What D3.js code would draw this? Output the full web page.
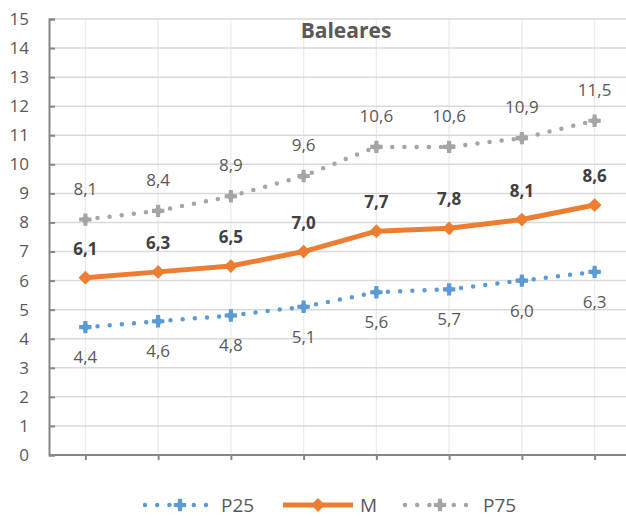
<!DOCTYPE html>
<html><head><meta charset="utf-8">
<script src="https://cdn.jsdelivr.net/npm/d3@7"></script>
<style>
html,body{margin:0;padding:0;background:#fff;}
svg text{font-family:"Open Sans",sans-serif;}
</style></head>
<body>
<svg id="c" width="626" height="517"></svg>
<script>
const categories = [1,2,3,4,5,6,7,8];
const p25 = [4.4,4.6,4.8,5.1,5.6,5.7,6.0,6.3];
const mVals = [6.1,6.3,6.5,7.0,7.7,7.8,8.1,8.6];
const p75 = [8.1,8.4,8.9,9.6,10.6,10.6,10.9,11.5];
const yTicks = d3.range(0,16);
const title = "Baleares";
const seriesNames = ["P25","M","P75"];

(function(){
const svg = d3.select("#c");
const left = 49, topY = 19, bottom = 455, right = 631;
const x = d3.scalePoint().domain(categories).range([left, right]).padding(0.5);
const y = d3.scaleLinear().domain([0,15]).range([bottom, topY]);
const fmt = v => d3.format(".1f")(v).replace(".", ",");

svg.append("g").selectAll("line").data(categories).join("line")
  .attr("x1", d=>x(d)).attr("x2", d=>x(d)).attr("y1", topY).attr("y2", bottom)
  .attr("stroke","#ebebeb").attr("stroke-width",1.3);
svg.append("g").selectAll("line").data(yTicks.filter(d=>d>0)).join("line")
  .attr("x1", left).attr("x2", 626).attr("y1", d=>y(d)).attr("y2", d=>y(d))
  .attr("stroke","#d9d9d9").attr("stroke-width",1.5);

const ya = svg.append("g").attr("transform",`translate(${left},0)`)
  .call(d3.axisRight(y).tickValues(yTicks).tickSize(6).tickFormat(d3.format("d")));
ya.select(".domain").attr("stroke","#868686").attr("stroke-width",2);
ya.selectAll(".tick line").attr("stroke","#868686").attr("stroke-width",2);
ya.selectAll(".tick text").attr("x",-20).attr("text-anchor","end")
  .attr("font-size",17).attr("fill","#595959").attr("font-family","Open Sans");

const xa = svg.append("g").attr("transform",`translate(0,${bottom})`)
  .call(d3.axisBottom(x).tickSize(5).tickFormat(""));
xa.select(".domain").remove();
xa.append("line").attr("x1",left).attr("x2",626).attr("stroke","#868686").attr("stroke-width",2);
xa.selectAll(".tick line").attr("stroke","#868686").attr("stroke-width",2);

svg.append("text").attr("x",346).attr("y",38).attr("text-anchor","middle")
  .attr("font-size",21).attr("font-weight","bold").attr("fill","#595959").text(title);

const line = d3.line().x((d,i)=>x(categories[i])).y(d=>y(d));
const crossMarker = (g, color) => {
  g.append("path").attr("d", d3.symbol(d3.symbolCross, 85)()).attr("fill", color);
  g.append("path").attr("d", d3.symbol(d3.symbolSquare, 50)()).attr("transform","rotate(45)").attr("fill", color);
};
const diamondMarker = (g, color) => {
  g.append("path").attr("d", d3.symbol(d3.symbolSquare, 95)()).attr("transform","rotate(45)").attr("fill", color);
};

function dotted(data, color){
  svg.append("path").datum(data).attr("d", line).attr("fill","none")
    .attr("stroke",color).attr("stroke-width",4.5).attr("stroke-linecap","round")
    .attr("stroke-dasharray","0 12.2");
  svg.append("g").selectAll("g").data(data).join("g")
    .attr("transform",(d,i)=>`translate(${x(categories[i])},${y(d)})`)
    .each(function(){ crossMarker(d3.select(this), color); });
}
dotted(p25, "#5b9bd5");
dotted(p75, "#a5a5a5");
svg.append("path").datum(mVals).attr("d", line).attr("fill","none")
  .attr("stroke","#ed7d31").attr("stroke-width",5).attr("stroke-linejoin","round");
svg.append("g").selectAll("g").data(mVals).join("g")
  .attr("transform",(d,i)=>`translate(${x(categories[i])},${y(d)})`)
  .each(function(){ diamondMarker(d3.select(this), "#ed7d31"); });

function labels(data, dy, bold){
  svg.append("g").selectAll("text").data(data).join("text")
    .attr("x",(d,i)=>x(categories[i])).attr("y",d=>y(d)+dy)
    .attr("text-anchor","middle").attr("font-size",17)
    .attr("font-weight", bold ? "bold" : "normal")
    .attr("fill", bold ? "#404040" : "#595959").text(fmt);
}
labels(p75, -25, false);
labels(mVals, -23, true);
labels(p25, 36, false);

const ly = 505;
const lg = svg.append("g");
function legendDotted(x0, x1, xm, color, name, tx){
  lg.append("line").attr("x1",x0).attr("x2",x1).attr("y1",ly).attr("y2",ly)
    .attr("stroke",color).attr("stroke-width",4.5).attr("stroke-linecap","round")
    .attr("stroke-dasharray","0 12.2");
  const g = lg.append("g").attr("transform",`translate(${xm},${ly})`);
  crossMarker(g, color);
  lg.append("text").attr("x",tx).attr("y",ly+7).attr("font-size",19).attr("fill","#595959").text(name);
}
legendDotted(145, 210, 180, "#5b9bd5", seriesNames[0], 221);
lg.append("line").attr("x1",283).attr("x2",353).attr("y1",ly).attr("y2",ly)
  .attr("stroke","#ed7d31").attr("stroke-width",5);
diamondMarker(lg.append("g").attr("transform",`translate(318,${ly})`), "#ed7d31");
lg.append("text").attr("x",360).attr("y",ly+7).attr("font-size",19).attr("fill","#595959").text(seriesNames[1]);
legendDotted(405, 470, 440, "#a5a5a5", seriesNames[2], 483);
})();
</script>
</body></html>
